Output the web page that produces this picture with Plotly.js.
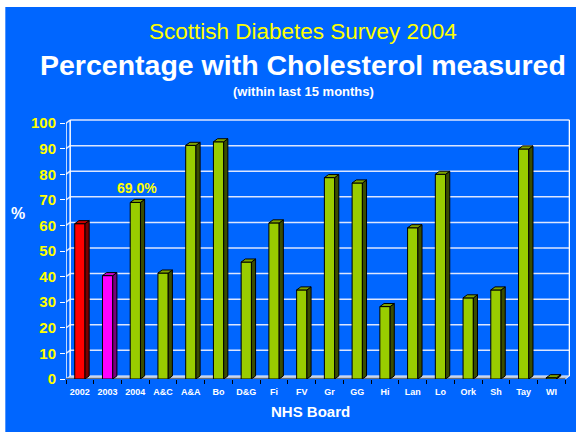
<!DOCTYPE html>
<html><head><meta charset="utf-8">
<script src="https://cdn.plot.ly/plotly-3.0.1.min.js"></script>
<style>html,body{margin:0;padding:0;background:#fff}#chart{width:576px;height:432px}</style>
</head><body><div id="chart"></div>
<script>
// ---- data ----
const categories = ['2002','2003','2004','A&C','A&A','Bo','D&G','Fi','FV','Gr','GG','Hi','Lan','Lo','Ork','Sh','Tay','WI'];
const values = [60.7,40.4,69.0,41.4,91.3,92.7,45.7,61.0,34.8,78.7,76.6,28.3,59.1,80.0,31.7,34.8,89.9,0.5];
const yTicks = [0,10,20,30,40,50,60,70,80,90,100];
const labelIndex = 2;
const labelText = '69.0%';
const titleLine1 = 'Scottish Diabetes Survey 2004';
const titleLine2 = 'Percentage with Cholesterol measured';
const titleLine3 = '(within last 15 months)';
const xTitle = 'NHS Board';
const yTitle = '%';

// ---- style ----
const FONT = 'Liberation Sans, Arial, sans-serif';
const BLUE = '#0066FF';
const palette = {
  red:   {front:'#FF0000', side:'#7A0000', top:'#C80000'},
  mag:   {front:'#FF00FF', side:'#7A007A', top:'#C800C8'},
  green: {front:'#99CC00', side:'#3A4D00', top:'#7FA300'}
};
const colorOf = i => i === 0 ? palette.red : (i === 1 ? palette.mag : palette.green);
const hw = 0.185, dx = 0.15, dy = 1.2;
const xs = categories.map((c,i)=>i);
const n = categories.length;

const traces = [];
traces.push({
  type:'bar', x: xs, y: values, width: hw*2,
  marker:{color: xs.map(i=>colorOf(i).front), line:{color:'#000', width:1}},
  hoverinfo:'skip', showlegend:false
});
xs.forEach(i=>{
  const v = values[i], c = colorOf(i);
  traces.push({type:'scatter', mode:'lines', fill:'toself', fillcolor:c.side,
    x:[i+hw, i+hw+dx, i+hw+dx, i+hw, i+hw], y:[0, dy, v+dy, v, 0],
    line:{color:'#000', width:1}, hoverinfo:'skip', showlegend:false});
  traces.push({type:'scatter', mode:'lines', fill:'toself', fillcolor:c.top,
    x:[i-hw, i+hw, i+hw+dx, i-hw+dx, i-hw], y:[v, v, v+dy, v+dy, v],
    line:{color:'#000', width:1}, hoverinfo:'skip', showlegend:false});
});

const xL = -0.5, xR = n - 0.5;
const yTop = yTicks[yTicks.length-1];
const shapes = [];
// white margins (outside blue panel)
shapes.push({type:'rect', xref:'paper', yref:'paper', x0:-0.5, x1:1.5, y0:1.425, y1:1.6, fillcolor:'#fff', line:{width:0}, layer:'above'});
shapes.push({type:'rect', xref:'paper', yref:'paper', x0:-0.5, x1:-0.1204, y0:-0.5, y1:1.6, fillcolor:'#fff', line:{width:0}, layer:'above'});
// floor
shapes.push({type:'path', xref:'x', yref:'y', layer:'below',
  path:`M ${xL} 0 L ${xR} 0 L ${xR+dx} ${dy} L ${xL+dx} ${dy} Z`,
  fillcolor:'#B8C4D8', line:{color:'#E6EEFF', width:1}});
// gridlines on back wall and left wall
yTicks.forEach(t=>{
  if (t === 0) return;
  shapes.push({type:'line', xref:'x', yref:'y', layer:'below', x0:xL+dx, x1:xR+dx, y0:t+dy, y1:t+dy, line:{color:'#DCE6FF', width:1.5}});
  shapes.push({type:'line', xref:'x', yref:'y', layer:'below', x0:xL, x1:xL+dx, y0:t, y1:t+dy, line:{color:'#DCE6FF', width:1.5}});
});
// wall outlines
shapes.push({type:'line', xref:'x', yref:'y', layer:'below', x0:xR+dx, x1:xR+dx, y0:dy, y1:yTop+dy, line:{color:'#FFFFFF', width:1.5}});
shapes.push({type:'line', xref:'x', yref:'y', layer:'below', x0:xL+dx, x1:xL+dx, y0:dy, y1:yTop+dy, line:{color:'#FFFFFF', width:1.5}});
shapes.push({type:'line', xref:'x', yref:'y', layer:'below', x0:xL, x1:xL, y0:0, y1:yTop, line:{color:'#FFFFFF', width:1.5}});
shapes.push({type:'line', xref:'x', yref:'y', layer:'below', x0:xL, x1:xR, y0:0, y1:0, line:{color:'#000000', width:1}});

const ann = (text, x, y, size, color) => ({text, xref:'paper', yref:'paper', x, y, xanchor:'center', yanchor:'middle', showarrow:false, font:{family:FONT, size, color}});
const annotations = [
  ann(titleLine1, 0.471, 1.333, 22.5, '#FFFF00'),
  ann('<b>'+titleLine2+'</b>', 0.471, 1.203, 28.5, '#FFFFFF'),
  ann('<b>'+titleLine3+'</b>', 0.471, 1.103, 13, '#FFFFFF'),
  ann('<b>'+yTitle+'</b>', -0.0946, 0.636, 16, '#FFFFFF'),
  ann('<b>'+xTitle+'</b>', 0.4845, -0.126, 15, '#FFFFFF'),
  {text:'<b>'+labelText+'</b>', xref:'x', yref:'y', x:labelIndex+dx/2, y:values[labelIndex], xanchor:'center', yanchor:'bottom', yshift:4, showarrow:false, font:{family:FONT, size:14, color:'#FFFF00'}}
];

const layout = {
  width:576, height:432,
  margin:{l:66, r:6, t:118, b:53, pad:0},
  paper_bgcolor:BLUE, plot_bgcolor:BLUE,
  showlegend:false,
  xaxis:{range:[xL, xR+dx+0.02], tickmode:'array', tickvals:xs, ticktext:categories, ticks:'',
    tickfont:{family:FONT, size:9, color:'#FFFFFF', weight:'bold'}, showgrid:false, zeroline:false, showline:false,
    ticklabelstandoff:6, fixedrange:true,
    minor:{tickmode:'array', tickvals:xs.map(i=>i-0.5).concat([xR]), ticks:'outside', ticklen:4, tickcolor:'#000', tickwidth:1}},
  yaxis:{range:[0, 102], tickmode:'array', tickvals:yTicks, ticks:'outside', ticklen:5, tickcolor:'#FFFFFF', tickwidth:1,
    tickfont:{family:FONT, size:15, color:'#FFFF00', weight:'bold'}, showgrid:false, zeroline:false, showline:false,
    ticklabelstandoff:1, fixedrange:true},
  shapes, annotations,
  bargap:0
};
Plotly.newPlot('chart', traces, layout, {staticPlot:true, displayModeBar:false});
</script></body></html>
